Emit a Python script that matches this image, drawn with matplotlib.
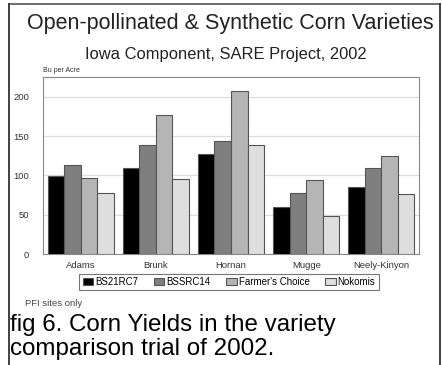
import matplotlib
matplotlib.use("Agg")
import matplotlib.pyplot as plt
from matplotlib.lines import Line2D
import numpy as np

plt.rcParams['font.family'] = ['Liberation Sans', 'DejaVu Sans']

categories = ["Adams", "Brunk", "Hornan", "Mugge", "Neely-Kinyon"]
series_names = ["BS21RC7", "BSSRC14", "Farmer's Choice", "Nokomis"]
bs21rc7 = [99, 109, 127, 60, 85]
bssrc14 = [113, 139, 144, 78, 109]
farmers_choice = [97, 177, 207, 94, 124]
nokomis = [78, 95, 139, 48, 76]
series_values = [bs21rc7, bssrc14, farmers_choice, nokomis]
yticks = [0, 50, 100, 150, 200]

colors = ["#000000", "#7f7f7f", "#b5b5b5", "#dedede"]

W, H = 442, 365
fig = plt.figure(figsize=(W / 100, H / 100), dpi=100)

def fx(px):
    return px / W

def fy(py):
    return 1 - py / H

# frame around chart
fig.add_artist(Line2D([fx(9), fx(440)], [fy(4), fy(4)], color="#555555", lw=1.2))
fig.add_artist(Line2D([fx(9), fx(9)], [fy(4), fy(365)], color="#333333", lw=1.3))
fig.add_artist(Line2D([fx(440), fx(440)], [fy(4), fy(365)], color="#333333", lw=1.3))

fig.text(fx(230), fy(23), "Open-pollinated & Synthetic Corn Varieties", ha="center", va="center",
         fontsize=15.5, color="#222222")
fig.text(fx(226), fy(54), "Iowa Component, SARE Project, 2002", ha="center", va="center",
         fontsize=11.9, color="#222222")
fig.text(fx(43), fy(70), "Bu per Acre", ha="left", va="center", fontsize=5.0, color="#333333")

ax = fig.add_axes([fx(43), fy(254), fx(419) - fx(43), fy(77) - fy(254)])
x = np.arange(len(categories))
bw = 0.22
for i, (name, vals) in enumerate(zip(series_names, series_values)):
    ax.bar(x + (i - 1.5) * bw, vals, width=bw, color=colors[i], edgecolor="#555555",
           linewidth=0.8, label=name, zorder=3)

ax.set_xlim(-0.5, len(categories) - 0.5)
ax.set_ylim(0, 225)
ax.set_yticks(yticks)
ax.set_yticklabels([str(v) for v in yticks])
ax.set_xticks(x)
ax.set_xticklabels(categories)
ax.tick_params(axis="both", length=0, labelsize=6.8, colors="#333333")
ax.tick_params(axis="y", pad=10)
ax.tick_params(axis="x", pad=5)
ax.yaxis.grid(True, color="#dddddd", linewidth=0.9, zorder=0)
for s in ax.spines.values():
    s.set_color("#888888")
    s.set_linewidth(0.8)

leg = fig.legend(loc="center", bbox_to_anchor=(fx(229), fy(282)), ncol=4, fontsize=7.0,
                 frameon=True, handlelength=1.1, handleheight=0.8, handletextpad=0.2,
                 columnspacing=1.6, borderpad=0.35, fancybox=False, edgecolor="#555555")
leg.get_frame().set_linewidth(0.8)

fig.text(fx(25), fy(303), "PFI sites only", ha="left", va="center", fontsize=6.8, color="#444444")

fig.text(fx(10), fy(325), "fig 6. Corn Yields in the variety", ha="left", va="center",
         fontsize=17.4, color="#000000")
fig.text(fx(10), fy(349), "comparison trial of 2002.", ha="left", va="center",
         fontsize=17.4, color="#000000")

fig.savefig("out.png", dpi=100)
